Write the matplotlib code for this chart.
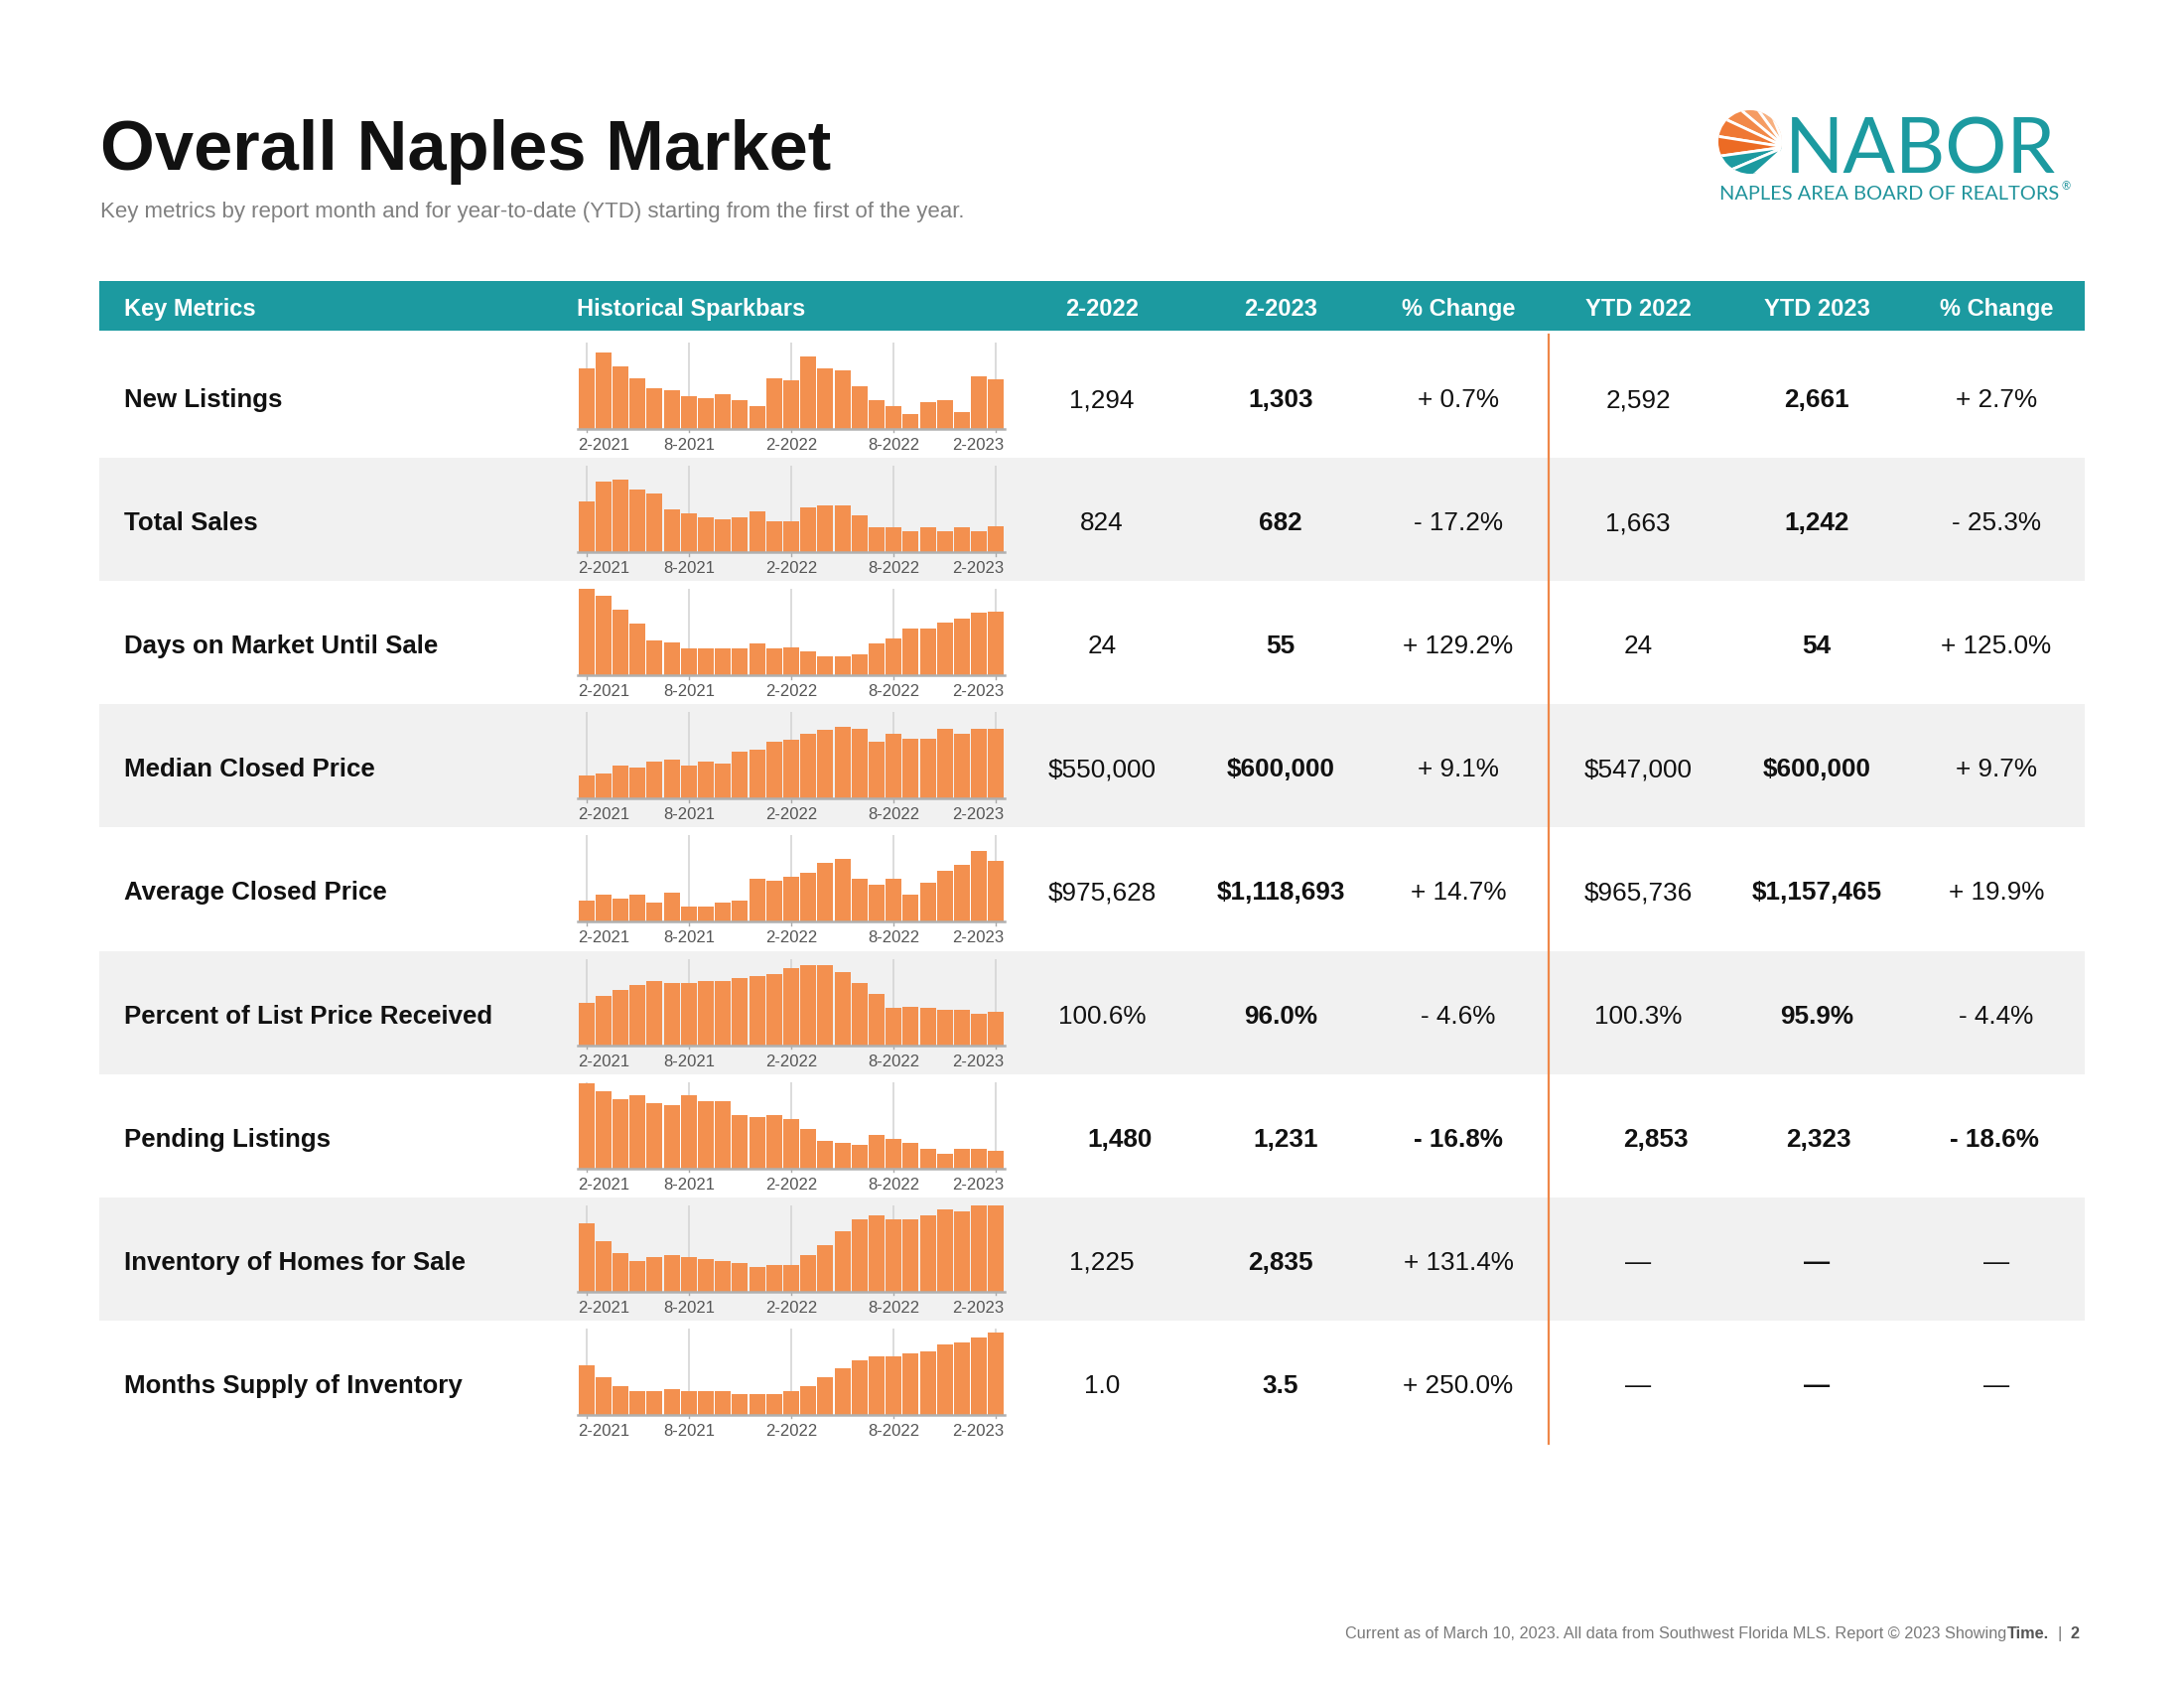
import matplotlib
matplotlib.use("Agg")
import matplotlib.pyplot as plt
import matplotlib.transforms as mtransforms
from matplotlib.patches import Rectangle, Circle, Wedge
import numpy as np

plt.rcParams["font.family"] = ["Liberation Sans", "DejaVu Sans"]

# ---- content -------------------------------------------------------------
TITLE = "Overall Naples Market"
SUBTITLE = ("Key metrics by report month and for year-to-date (YTD) "
            "starting from the first of the year.")
HEADERS = ["Key Metrics", "Historical Sparkbars", "2-2022", "2-2023",
           "% Change", "YTD 2022", "YTD 2023", "% Change"]
FOOTER = "Current as of March 10, 2023. All data from Southwest Florida MLS. Report \u00a9 2023 Showing"

METRICS = ["New Listings", "Total Sales", "Days on Market Until Sale",
           "Median Closed Price", "Average Closed Price",
           "Percent of List Price Received", "Pending Listings",
           "Inventory of Homes for Sale", "Months Supply of Inventory"]

MONTHS = [f"{m}-{y}" for y, ms in ((2021, range(2, 13)), (2022, range(1, 13)), (2023, range(1, 3)))
          for m in ms]
TICK_LABELS = ["2-2021", "8-2021", "2-2022", "8-2022", "2-2023"]

# monthly sparkbar series, 2-2021 .. 2-2023
NEW_LISTINGS = [1593, 2013, 1645, 1330, 1068, 1015, 858, 805, 910, 753, 595, 1330, 1294,
                1908, 1593, 1540, 1120, 753, 595, 385, 700, 753, 438, 1383, 1303]
TOTAL_SALES = [1362, 1896, 1949, 1682, 1575, 1148, 1041, 935, 881, 935, 1095, 828, 824,
               1202, 1255, 1255, 988, 668, 668, 561, 668, 561, 668, 561, 682]
DAYS_ON_MARKET = [74, 68, 56, 44, 30, 28, 23, 23, 23, 23, 27, 23, 24,
                  21, 16, 16, 18, 27, 32, 40, 40, 45, 49, 54, 55]
MEDIAN_PRICE = [400000, 408000, 442000, 433000, 458000, 467000, 442000, 458000, 450000,
                500000, 508000, 542000, 550000, 575000, 592000, 608000, 600000, 542000,
                575000, 558000, 558000, 600000, 575000, 600000, 600000]
AVERAGE_PRICE = [761000, 815000, 779000, 815000, 743000, 833000, 707000, 707000, 743000,
                 761000, 958000, 940000, 975628, 1011000, 1101000, 1137000, 958000, 904000,
                 958000, 815000, 922000, 1029000, 1083000, 1208000, 1118693]
PCT_LIST_RECEIVED = [97.0, 97.7, 98.3, 98.9, 99.3, 99.1, 99.1, 99.3, 99.3, 99.6, 99.8, 100.0,
                     100.6, 101.0, 101.0, 100.2, 99.1, 97.9, 96.4, 96.6, 96.4, 96.2, 96.2,
                     95.8, 96.0]
PENDING = [1760, 1698, 1636, 1667, 1605, 1589, 1667, 1620, 1620, 1511, 1496, 1511, 1480,
           1402, 1309, 1293, 1278, 1356, 1324, 1293, 1247, 1215, 1247, 1247, 1231]
INVENTORY = [2352, 1869, 1547, 1332, 1440, 1493, 1440, 1386, 1332, 1279, 1171, 1225, 1225,
             1493, 1762, 2137, 2459, 2567, 2459, 2459, 2567, 2728, 2674, 2835, 2835]
MONTHS_SUPPLY = [2.1, 1.6, 1.2, 1.0, 1.0, 1.1, 1.0, 1.0, 1.0, 0.9, 0.9, 0.9, 1.0,
                 1.2, 1.6, 2.0, 2.3, 2.5, 2.5, 2.6, 2.7, 3.0, 3.1, 3.3, 3.5]

SPARKS = [NEW_LISTINGS, TOTAL_SALES, DAYS_ON_MARKET, MEDIAN_PRICE, AVERAGE_PRICE,
          PCT_LIST_RECEIVED, PENDING, INVENTORY, MONTHS_SUPPLY]
# value range of each sparkbar axis
SPARK_YLIM = [(0, 2275), (0, 2314), (0, 74), (303000, 668000), (570000, 1351000),
              (92.5, 101.65), (1099, 1768), (500, 2835), (0, 3.68)]

COL_2022 = ["1,294", "824", "24", "$550,000", "$975,628", "100.6%", "1,480", "1,225", "1.0"]
COL_2023 = ["1,303", "682", "55", "$600,000", "$1,118,693", "96.0%", "1,231", "2,835", "3.5"]
CHANGE = ["+ 0.7%", "- 17.2%", "+ 129.2%", "+ 9.1%", "+ 14.7%", "- 4.6%", "- 16.8%",
          "+ 131.4%", "+ 250.0%"]
YTD_2022 = ["2,592", "1,663", "24", "$547,000", "$965,736", "100.3%", "2,853", "\u2014", "\u2014"]
YTD_2023 = ["2,661", "1,242", "54", "$600,000", "$1,157,465", "95.9%", "2,323", "\u2014", "\u2014"]
YTD_CHANGE = ["+ 2.7%", "- 25.3%", "+ 125.0%", "+ 9.7%", "+ 19.9%", "- 4.4%", "- 18.6%",
              "\u2014", "\u2014"]

# ---- style ---------------------------------------------------------------
TEAL = "#1c9aa0"
TEAL_TEXT = "#1f939b"
ORANGE = "#f3904f"
LINE_ORANGE = "#ef8748"
ROW_GRAY = "#f1f1f1"

W, H, DPI = 2200, 1700, 200
TABLE_TOP = 337
ROW_H = 124.1
COL_X = [1110, 1290, 1469, 1650, 1830, 2011]
PENDING_X = [1128, 1295, 1469, 1668, 1832, 2009]

fig = plt.figure(figsize=(W / DPI, H / DPI), dpi=DPI)
bg = fig.add_axes([0, 0, 1, 1])
bg.set_xlim(0, W)
bg.set_ylim(H, 0)
bg.axis("off")
renderer = fig.canvas.get_renderer()

# title block
bg.text(101, 171, TITLE, fontsize=25.4, fontweight="bold", color="#111111", va="baseline")
bg.text(101, 219, SUBTITLE, fontsize=8.0, color="#808080", va="baseline")

# logo: shell (fan of ribs clipped to a disc) + wordmark
clip = Circle((1763, 143), 32, transform=bg.transData)
hinge = (1798, 148)
ribs = [(98, 112, "#f9c6a0"), (112, 126, "#f7b080"), (126, 140, "#f59c63"),
        (140, 155, "#f28949"), (155, 171, "#ef7834"), (171, 188, "#ec6b24"),
        (188, 203, TEAL), (203, 222, TEAL)]
for a0, a1, col in ribs:
    # y axis is flipped, so visual angles are negated
    wd = Wedge(hinge, 80, -a1, -a0, facecolor=col, edgecolor="white", lw=1.0)
    bg.add_patch(wd)
    wd.set_clip_path(clip)
bg.text(1798, 174, "NABOR", fontsize=28, family=["Lato", "Liberation Sans"],
        color=TEAL, va="baseline")
sub = bg.text(1732, 201, "NAPLES AREA BOARD OF REALTORS", fontsize=7.2,
              family=["Lato", "Liberation Sans"], color=TEAL_TEXT, va="baseline")
sub_end = 1732 + sub.get_window_extent(renderer=renderer).width
bg.text(sub_end + 2, 191, "\u00ae", fontsize=4, family=["Lato", "Liberation Sans"],
        color=TEAL_TEXT, va="baseline")

# header bar
bg.add_patch(Rectangle((100, 283), 2000, 50, facecolor=TEAL, edgecolor="none"))
hdr_font = dict(fontsize=8.5, fontweight="bold", color="white", va="center")
bg.text(125, 311, HEADERS[0], ha="left", **hdr_font)
bg.text(581, 311, HEADERS[1], ha="left", **hdr_font)
for x, h in zip(COL_X, HEADERS[2:]):
    bg.text(x, 311, h, ha="center", **hdr_font)

# table rows
columns = [COL_2022, COL_2023, CHANGE, YTD_2022, YTD_2023, YTD_CHANGE]
for i, name in enumerate(METRICS):
    top = TABLE_TOP + i * ROW_H
    mid = top + ROW_H / 2 + 4
    if i % 2 == 1:
        bg.add_patch(Rectangle((100, top), 2000, ROW_H, facecolor=ROW_GRAY, edgecolor="none"))
    bg.text(125, mid, name, fontsize=9.3, fontweight="bold", color="#111111", va="center")
    xs = PENDING_X if name == "Pending Listings" else COL_X
    for j, (x, col) in enumerate(zip(xs, columns)):
        bold = j in (1, 4) or name == "Pending Listings"
        bg.text(x, mid, col[i], fontsize=9.4, ha="center", va="center", color="#111111",
                fontweight="bold" if bold else "normal")

# orange divider between monthly and YTD blocks
bg.plot([1560, 1560], [TABLE_TOP, TABLE_TOP + 9 * ROW_H], color=LINE_ORANGE, lw=0.8)

# sparkbars
tick_idx = [MONTHS.index(t) for t in TICK_LABELS]
tick_ha = ["left", "center", "center", "center", "right"]
for i, vals in enumerate(SPARKS):
    top = TABLE_TOP + i * ROW_H
    ax = fig.add_axes([582 / W, 1 - (top + 95) / H, 430 / W, 87 / H])
    ax.patch.set_visible(False)
    lo, hi = SPARK_YLIM[i]
    x = np.arange(len(MONTHS))
    ax.vlines(tick_idx, lo, hi, color="#d5d5d5", lw=0.6, zorder=1)
    ax.bar(x, vals, width=0.93, color=ORANGE, edgecolor="none", zorder=2)
    ax.set_xlim(-0.5, len(MONTHS) - 0.5)
    ax.set_ylim(lo, hi)
    ax.axhline(lo, color="#b0b0b0", lw=0.9, zorder=3, clip_on=False)
    trans = mtransforms.blended_transform_factory(ax.transData, ax.transAxes)
    for k, (idx, lab, ha) in enumerate(zip(tick_idx, TICK_LABELS, tick_ha)):
        ax.plot([idx, idx], [0, -0.04], color="#aaaaaa", lw=0.5, transform=trans, clip_on=False)
        lx = idx - 0.47 if ha == "left" else (idx + 0.47 if ha == "right" else idx)
        ax.text(lx, -0.19, lab, transform=trans, ha=ha, va="center", fontsize=6.0,
                color="#555555")
    ax.axis("off")

# footer with mixed weights, right aligned
fy = 1650
parts = [(FOOTER, "normal", "#7a7a7a"), ("Time.", "bold", "#555555"),
         ("|", "normal", "#7a7a7a"), ("2", "bold", "#555555")]
gaps = [0, 9, 9]
xr = 2095
for k in range(len(parts) - 1, -1, -1):
    s, wt, c = parts[k]
    t = bg.text(xr, fy, s, fontsize=5.85, fontweight=wt, color=c, ha="right", va="baseline")
    xr -= t.get_window_extent(renderer=renderer).width
    if k > 0:
        xr -= gaps[k - 1]

fig.savefig("out.png", dpi=DPI)
